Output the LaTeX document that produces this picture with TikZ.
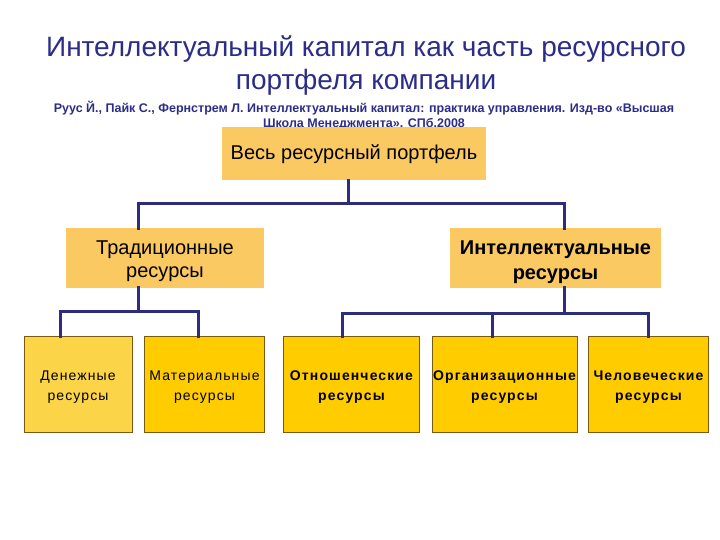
\documentclass[tikz,border=0pt]{standalone}
\usepackage{fontspec}
\setmainfont{Liberation Sans}
\newfontfamily\spacedfont[LetterSpace=8]{Liberation Sans}
\begin{document}
\begin{tikzpicture}[x=1pt,y=-1pt,
  conn/.style={draw=linecol,line width=3pt,line cap=rect,line join=miter},
  bigbox/.style={fill=boxorange,inner sep=0pt},
  smallbox/.style={fill=boxgold,draw=boxedge,line width=0.8pt,inner sep=0pt,minimum height=96pt},
  boxtext/.style={inner sep=0pt,align=center,text=black},
  bigtext/.style={boxtext,font=\fontsize{20}{23}\selectfont},
  smalltext/.style={boxtext,font=\spacedfont\fontsize{14}{20}\selectfont},
  smallbold/.style={boxtext,font=\spacedfont\bfseries\fontsize{14}{20}\selectfont},
]
\definecolor{linecol}{HTML}{2E2C7C}
\definecolor{titlecol}{HTML}{2B2D87}
\definecolor{boxorange}{HTML}{FBC962}
\definecolor{boxgold}{HTML}{FFCC00}
\definecolor{boxlight}{HTML}{FCD447}
\definecolor{boxedge}{HTML}{7A5A10}
\useasboundingbox[fill=white] (0,0) rectangle (720,540);
% title
\node[text=titlecol,font=\fontsize{28}{33}\selectfont,align=center,inner sep=0pt] (title) at (366,66) {Интеллектуальный капитал как часть ресурсного\\портфеля компании};
\node[text=titlecol,font=\bfseries\fontsize{12.5}{15}\selectfont,align=center,inner sep=0pt] (ref) at (364,115.5) {Руус Й., Пайк С., Фернстрем Л. Интеллектуальный капитал: практика управления. Изд-во «Высшая\\Школа Менеджмента». СПб.2008};
% boxes
\node[bigbox,minimum width=264pt,minimum height=53pt] (top) at (354,153.5) {};
\node[bigbox,minimum width=198pt,minimum height=59pt] (trad) at (165,258) {};
\node[bigbox,minimum width=211pt,minimum height=59pt] (intel) at (555.5,258) {};
\node[smallbox,fill=boxlight,minimum width=108pt] (den) at (78,384.5) {};
\node[smallbox,minimum width=120pt] (mat) at (204.5,384.5) {};
\node[smallbox,minimum width=136pt] (otn) at (351.5,384.5) {};
\node[smallbox,minimum width=145pt] (org) at (504.5,384.5) {};
\node[smallbox,minimum width=120pt] (chel) at (648.5,384.5) {};
% texts
\node[bigtext] (topT) at ([yshift=-1pt]top.center) {Весь ресурсный портфель};
\node[bigtext] (tradT) at ([yshift=-3.5pt]trad.center) {Традиционные\\ресурсы};
\node[bigtext,font=\bfseries\fontsize{20}{25}\selectfont] (intelT) at ([yshift=-4pt]intel.center) {Интеллектуальные\\ресурсы};
\node[smalltext] (denT) at ([yshift=-3pt]den.center) {Денежные\\ресурсы};
\node[smalltext] (matT) at ([yshift=-3pt]mat.center) {Материальные\\ресурсы};
\node[smallbold] (otnT) at ([yshift=-3pt]otn.center) {Отношенческие\\ресурсы};
\node[smallbold] (orgT) at ([yshift=-3pt]org.center) {Организационные\\ресурсы};
\node[smallbold] (chelT) at ([yshift=-3pt]chel.center) {Человеческие\\ресурсы};
% connectors
\coordinate (bTop) at (348,204);
\coordinate (bTrad) at (138,311);
\coordinate (bInt) at (564,313);
\coordinate (c1) at (60,311);
\coordinate (c2) at (198,311);
\coordinate (d1) at (342,313);
\coordinate (d2) at (492,313);
\coordinate (d3) at (648,313);
\draw[conn] (top.south -| bTop) -- (bTop);
\draw[conn] (trad.north -| bTrad) |- (bTop) -| (intel.north -| bInt);
\draw[conn] (trad.south -| bTrad) -- (bTrad);
\draw[conn] (den.north -| c1) -- (c1) -- (c2) -- (mat.north -| c2);
\draw[conn] (intel.south -| bInt) -- (bInt);
\draw[conn] (otn.north -| d1) -- (d1) -- (d3) -- (chel.north -| d3);
\draw[conn] (d2) -- (org.north -| d2);
\end{tikzpicture}
\end{document}
